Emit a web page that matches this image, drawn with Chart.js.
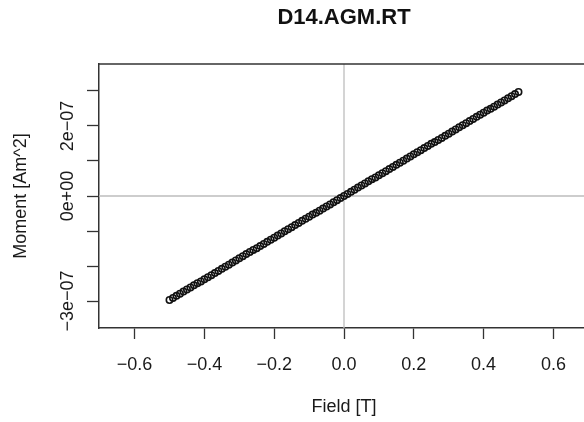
<!DOCTYPE html>
<html>
<head>
<meta charset="utf-8">
<script src="https://cdn.jsdelivr.net/npm/chart.js@4/dist/chart.umd.min.js"></script>
<style>
  body { margin: 0; background: #fff; overflow: hidden; }
  /* the R plot region runs a few pixels past the right edge of the picture */
  #wrap { width: 584px; height: 422px; overflow: hidden; }
</style>
</head>
<body>
<div id="wrap"><canvas id="agm" width="589" height="422"></canvas></div>
<script>
// field steps [T]
const field = [
  -0.50, -0.49, -0.48, -0.47, -0.46, -0.45, -0.44, -0.43, -0.42, -0.41,
  -0.40, -0.39, -0.38, -0.37, -0.36, -0.35, -0.34, -0.33, -0.32, -0.31,
  -0.30, -0.29, -0.28, -0.27, -0.26, -0.25, -0.24, -0.23, -0.22, -0.21,
  -0.20, -0.19, -0.18, -0.17, -0.16, -0.15, -0.14, -0.13, -0.12, -0.11,
  -0.10, -0.09, -0.08, -0.07, -0.06, -0.05, -0.04, -0.03, -0.02, -0.01,
  0.00,
  0.01, 0.02, 0.03, 0.04, 0.05, 0.06, 0.07, 0.08, 0.09, 0.10,
  0.11, 0.12, 0.13, 0.14, 0.15, 0.16, 0.17, 0.18, 0.19, 0.20,
  0.21, 0.22, 0.23, 0.24, 0.25, 0.26, 0.27, 0.28, 0.29, 0.30,
  0.31, 0.32, 0.33, 0.34, 0.35, 0.36, 0.37, 0.38, 0.39, 0.40,
  0.41, 0.42, 0.43, 0.44, 0.45, 0.46, 0.47, 0.48, 0.49, 0.50
];

// measured moment [Am^2]
const moment = [
  -2.97e-7, -2.91e-7, -2.85e-7, -2.79e-7, -2.73e-7, -2.67e-7, -2.61e-7, -2.55e-7, -2.49e-7, -2.44e-7,
  -2.38e-7, -2.32e-7, -2.26e-7, -2.20e-7, -2.14e-7, -2.08e-7, -2.02e-7, -1.96e-7, -1.90e-7, -1.84e-7,
  -1.78e-7, -1.72e-7, -1.66e-7, -1.60e-7, -1.54e-7, -1.49e-7, -1.43e-7, -1.37e-7, -1.31e-7, -1.25e-7,
  -1.19e-7, -1.13e-7, -1.07e-7, -1.01e-7, -0.95e-7, -0.89e-7, -0.83e-7, -0.77e-7, -0.71e-7, -0.65e-7,
  -0.59e-7, -0.53e-7, -0.48e-7, -0.42e-7, -0.36e-7, -0.30e-7, -0.24e-7, -0.18e-7, -0.12e-7, -0.06e-7,
  0.00,
  0.06e-7, 0.12e-7, 0.18e-7, 0.24e-7, 0.30e-7, 0.36e-7, 0.42e-7, 0.48e-7, 0.53e-7, 0.59e-7,
  0.65e-7, 0.71e-7, 0.77e-7, 0.83e-7, 0.89e-7, 0.95e-7, 1.01e-7, 1.07e-7, 1.13e-7, 1.19e-7,
  1.25e-7, 1.31e-7, 1.37e-7, 1.43e-7, 1.49e-7, 1.54e-7, 1.60e-7, 1.66e-7, 1.72e-7, 1.78e-7,
  1.84e-7, 1.90e-7, 1.96e-7, 2.02e-7, 2.08e-7, 2.14e-7, 2.20e-7, 2.26e-7, 2.32e-7, 2.38e-7,
  2.44e-7, 2.49e-7, 2.55e-7, 2.61e-7, 2.67e-7, 2.73e-7, 2.79e-7, 2.85e-7, 2.91e-7, 2.97e-7
];

const xTicks = [-0.6, -0.4, -0.2, 0.0, 0.2, 0.4, 0.6];
const xTickLabels = ["\u22120.6", "\u22120.4", "\u22120.2", "0.0", "0.2", "0.4", "0.6"];
const yTicks = [-3e-7, -2e-7, -1e-7, 0, 1e-7, 2e-7, 3e-7];
// R drops the labels that would overlap
const yLabelValues = [-3e-7, 0, 2e-7];
const yLabelTexts = ["\u22123e\u221207", "0e+00", "2e\u221207"];

const FONT = '"Liberation Sans", Arial, Helvetica, sans-serif';
const axisColor = "#333";
const textColor = "#1a1a1a";

// ablines at 0 and the rotated y labels, drawn R-style
const rStyle = {
  id: "rStyle",
  beforeDatasetsDraw(chart) {
    const { ctx, chartArea: a, scales } = chart;
    const x0 = scales.x.getPixelForValue(0);
    const y0 = scales.y.getPixelForValue(0);
    ctx.save();
    ctx.strokeStyle = "#bdbdbd";
    ctx.lineWidth = 1.3;
    ctx.beginPath();
    ctx.moveTo(x0, a.top);
    ctx.lineTo(x0, a.bottom);
    ctx.moveTo(a.left, y0);
    ctx.lineTo(a.right, y0);
    ctx.stroke();
    ctx.restore();
  },
  afterDraw(chart) {
    const { ctx, chartArea: a, scales } = chart;
    ctx.save();
    ctx.strokeStyle = axisColor;
    ctx.lineWidth = 1.5;
    ctx.beginPath();
    ctx.moveTo(a.left, a.top);
    ctx.lineTo(a.right, a.top);
    ctx.stroke();

    ctx.fillStyle = textColor;
    ctx.font = "18px " + FONT;
    ctx.textAlign = "center";
    ctx.textBaseline = "alphabetic";
    yLabelValues.forEach((v, i) => {
      const y = scales.y.getPixelForValue(v);
      ctx.save();
      ctx.translate(72.5, y);
      ctx.rotate(-Math.PI / 2);
      ctx.fillText(yLabelTexts[i], 0, 0);
      ctx.restore();
    });
    ctx.restore();
  }
};

new Chart(document.getElementById("agm"), {
  type: "scatter",
  data: {
    datasets: [
      {
        data: field.map((b, i) => ({ x: b, y: moment[i] })),
        pointStyle: "circle",
        pointRadius: 3.2,
        pointBorderWidth: 1.6,
        pointBorderColor: "#111",
        pointBackgroundColor: "rgba(0,0,0,0)",
        showLine: false
      }
    ]
  },
  options: {
    responsive: false,
    animation: false,
    devicePixelRatio: 1,
    layout: { padding: 0, autoPadding: false },
    plugins: {
      legend: { display: false },
      tooltip: { enabled: false },
      title: {
        display: true,
        text: "D14.AGM.RT",
        fullSize: false,
        color: "#111",
        font: { family: FONT, size: 22, weight: "bold" },
        padding: { top: 5, bottom: 32.6 }
      }
    },
    scales: {
      x: {
        type: "linear",
        min: -0.702,
        max: 0.702,
        afterBuildTicks: (s) => { s.ticks = xTicks.map((v) => ({ value: v })); },
        afterFit: (s) => { s.height = 94; s.paddingLeft = 0; s.paddingRight = 0; },
        grid: { drawOnChartArea: false, drawTicks: true, tickLength: 11, tickWidth: 1.3, tickColor: axisColor },
        border: { display: true, color: axisColor, width: 1.5 },
        ticks: {
          autoSkip: false,
          maxRotation: 0,
          padding: 15,
          color: textColor,
          font: { family: FONT, size: 18 },
          callback: (v, i) => xTickLabels[i]
        },
        title: {
          display: true,
          text: "Field [T]",
          color: textColor,
          font: { family: FONT, size: 18 },
          padding: { top: 0, bottom: 4 }
        }
      },
      y: {
        type: "linear",
        min: -3.77e-7,
        max: 3.77e-7,
        afterBuildTicks: (s) => { s.ticks = yTicks.map((v) => ({ value: v })); },
        afterFit: (s) => { s.width = 99; s.paddingTop = 0; s.paddingBottom = 0; },
        grid: { drawOnChartArea: false, drawTicks: true, tickLength: 12, tickWidth: 1.3, tickColor: axisColor },
        border: { display: true, color: axisColor, width: 1.5 },
        ticks: { padding: 0, callback: () => "" },
        title: {
          display: true,
          text: "Moment [Am^2]",
          color: textColor,
          font: { family: FONT, size: 18 },
          padding: { top: 10, bottom: 0 }
        }
      }
    }
  },
  plugins: [rStyle]
});
</script>
</body>
</html>
